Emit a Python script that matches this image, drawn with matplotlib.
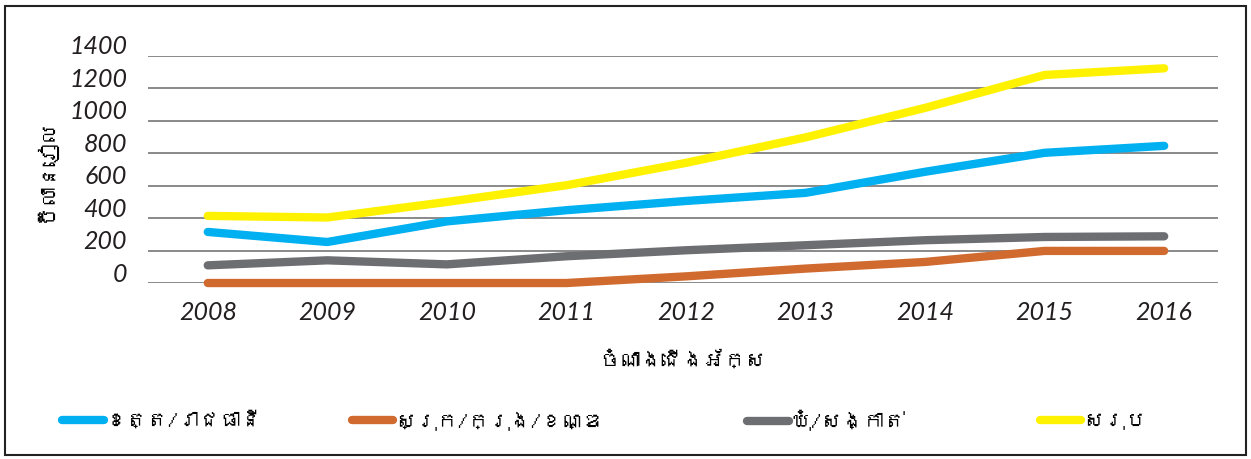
import matplotlib
matplotlib.use("Agg")
import matplotlib.pyplot as plt
import matplotlib.transforms as mtransforms
from matplotlib import font_manager
from matplotlib.ft2font import FT2Font
from matplotlib.patches import Rectangle

# look for any installed font that covers Khmer
khmer = None
for f in font_manager.fontManager.ttflist:
    try:
        if 0x1780 in FT2Font(f.fname).get_charmap():
            khmer = f.name
            break
    except Exception:
        pass
text_fonts = [khmer, "DejaVu Sans"] if khmer else ["DejaVu Sans"]

years = ["2008", "2009", "2010", "2011", "2012", "2013", "2014", "2015", "2016"]
province = [315, 253, 380, 449, 506, 556, 686, 803, 846]
district = [0, 0, 0, 0, 41, 89, 130, 198, 198]
commune = [109, 140, 115, 165, 202, 233, 264, 284, 288]
total = [414, 404, 500, 603, 741, 898, 1080, 1283, 1324]
yticks = [0, 200, 400, 600, 800, 1000, 1200, 1400]

names = ["ខេត្ត/រាជធានី", "ស្រុក/ក្រុង/ខណ្ឌ", "ឃុំ/សង្កាត់", "សរុប"]
colors = ["#00B0F0", "#D06A2E", "#6D6E71", "#FFF200"]
series = [province, district, commune, total]
legend_x = [0.0496, 0.281, 0.597, 0.831]

fig = plt.figure(figsize=(12.51, 4.59), dpi=100)
ax = fig.add_axes([0.1183, 0.3834, 0.9736 - 0.1183, 0.878 - 0.3834])

x = list(range(len(years)))
lines = []
for vals, c, n in zip(series, colors, names):
    ln, = ax.plot(x, vals, color=c, lw=6, solid_capstyle="round",
                  solid_joinstyle="round", label=n, clip_on=False, zorder=3)
    lines.append(ln)

ax.set_xlim(-0.5, 8.45)
ax.set_ylim(0, 1400)
ax.set_yticks(yticks)
ax.set_xticks(x)
ax.set_xticklabels(years)
ax.grid(axis="y", color="#808080", lw=1.3)
ax.set_axisbelow(True)
for s in ax.spines.values():
    s.set_visible(False)
ax.tick_params(length=0)
ax.tick_params(axis="y", pad=15)
ax.tick_params(axis="x", pad=13)
for lbl in ax.get_xticklabels() + ax.get_yticklabels():
    lbl.set_family("Lato")
    lbl.set_fontsize(18)
    lbl.set_fontstyle("italic")
    lbl.set_color("#231F20")
# y labels sit a bit above their gridlines
shift = mtransforms.ScaledTranslation(0, 11 / 100, fig.dpi_scale_trans)
for lbl in ax.get_yticklabels():
    lbl.set_transform(lbl.get_transform() + shift)

ax.set_xlabel("ចំណាងជើងអ័ក្ស", family=text_fonts, fontsize=15, labelpad=19)
ax.set_ylabel("ប៊ីលានរៀល", family=text_fonts, fontsize=15, labelpad=10)

# one legend per entry so each sits where it does in the original
for ln, lx in zip(lines, legend_x):
    leg = fig.legend(handles=[ln], loc="center left", bbox_to_anchor=(lx, 0.083),
                     frameon=False, prop={"family": text_fonts, "size": 15},
                     handlelength=2.0, handletextpad=0.1,
                     borderpad=0, borderaxespad=0)

fig.patches.append(Rectangle((0.004, 0.008), 0.992, 0.978, transform=fig.transFigure,
                             fill=False, edgecolor="#222222", lw=1.5))

fig.savefig("out.png", dpi=100)
